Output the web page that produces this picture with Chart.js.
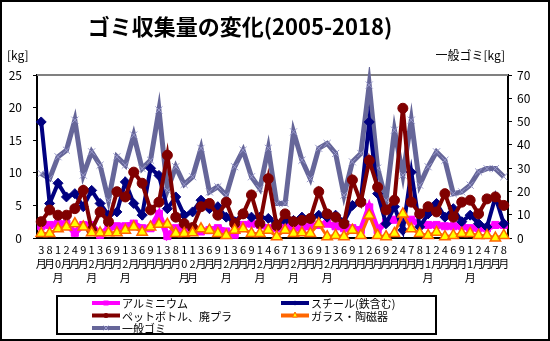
<!DOCTYPE html>
<html lang="ja">
<head>
<meta charset="UTF-8">
<title>ゴミ収集量の変化(2005-2018)</title>
<script src="https://cdn.jsdelivr.net/npm/chart.js"></script>
<style>
  body { margin: 0; background: #fff; }
  #wrap { width: 550px; height: 341px; position: relative; }
</style>
</head>
<body>
<div id="wrap"><canvas id="garbageChart"></canvas></div>
<script>
// collection months (2005-2018)
const months = ['3月','8月','10月','2月','4月','9月','12月','3月','6月','9月',
  '12月','3月','6月','9月','1月','3月','8月','10月','12月','3月',
  '6月','9月','12月','3月','6月','9月','12月','4月','6月','7月',
  '12月','3月','6月','9月','12月','3月','6月','9月','1月','2月',
  '6月','9月','2月','4月','7月','8月','11月','2月','4月','6月',
  '9月','11月','2月','4月','7月','8月'];

// left axis [kg]
const aluminium = [1.8,2.0,2.2,2.2,0.8,2.0,2.0,0.5,1.5,1.8, 1.8,2.2,1.5,1.5,3.7,0.3,1.5,1.2,1.0,1.0,
  1.2,1.5,1.0,0.5,2.0,2.2,2.0,1.5,1.5,1.8, 1.5,1.5,1.8,2.0,2.2,1.8,1.5,1.5,1.2,4.7,
  1.2,2.5,2.8,2.8,2.8,2.0,2.0,2.0,1.8,1.8, 1.8,1.5,1.5,1.5,2.0,2.0];
const steel = [17.8,5.3,8.4,6.3,6.8,4.8,7.3,5.3,3.5,4.0, 8.6,5.3,3.5,10.7,9.6,4.5,6.3,3.5,4.0,5.8,
  4.5,4.8,3.2,2.5,3.7,3.2,3.2,3.0,2.2,2.7, 2.7,3.2,3.0,3.5,3.2,3.5,2.5,5.0,5.8,17.8,
  6.8,2.2,4.8,1.2,10.1,1.7,3.7,5.3,3.2,4.5, 2.5,3.5,2.2,1.7,6.3,2.2];
const petPlastic = [2.5,4.3,3.5,3.5,4.5,7.3,1.2,4.0,2.5,7.1, 6.3,10.1,8.4,4.3,5.5,12.7,3.2,2.2,1.6,4.8,
  5.3,3.5,5.5,2.2,3.7,6.6,2.2,9.1,1.9,3.7, 2.5,2.7,3.0,7.1,3.7,3.2,2.2,8.9,5.5,11.9,
  7.8,4.3,5.8,19.9,5.5,3.7,4.8,4.0,6.8,3.2, 5.5,5.8,3.7,6.0,6.3,5.0];
const glass = [0.7,0.7,1.4,1.7,2.2,1.7,0.8,0.8,0.8,0.8, 1.2,1.7,0.9,1.7,2.1,2.1,0.7,0.7,0.8,1.4,
  1.2,0.7,0.4,1.2,1.4,0.7,0.7,1.2,0.2,1.2, 0.7,0.8,0.7,2.2,0.2,0.4,0.2,1.2,0.4,3.5,
  0.4,0.2,0.7,3.7,1.4,0.7,0.4,0.9,0.2,0.4, 0.7,0.7,0.4,0.4,0.0,0.4];
// right axis 一般ゴミ[kg]
const general = [27.7,25.5,34.9,37.7,50.6,27.0,37.0,31.3,16.2,34.9, 31.3,44.2,29.8,33.4,55.0,20.5,30.6,23.0,26.3,38.5,
  19.8,22.0,18.4,30.6,37.7,26.3,21.2,38.5,14.8,14.8, 45.6,33.4,25.5,38.5,40.6,36.3,18.4,32.7,36.3,65.7,
  30.0,16.2,46.3,27.0,50.6,22.7,30.6,37.0,33.4,19.0, 19.8,22.7,28.4,29.8,29.8,26.3];

const leftTicks = [0, 25, 5];
const rightTicks = [0, 70, 10];

const FONT = '"Noto Sans CJK JP", "Noto Sans", sans-serif';

const datasets = [
  { label: 'ガラス・陶磁器', data: glass, yAxisID: 'y', order: 0,
    borderColor: '#FF6600', borderWidth: 3,
    pointStyle: 'triangle', pointRadius: 6, pointBackgroundColor: '#FFFF00',
    pointBorderColor: '#FF6600', pointBorderWidth: 1.5 },
  { label: 'ペットボトル、廃プラ', data: petPlastic, yAxisID: 'y', order: 1,
    borderColor: '#800000', borderWidth: 4,
    pointStyle: 'circle', pointRadius: 5, pointBackgroundColor: '#800000',
    pointBorderColor: '#800000', pointBorderWidth: 1 },
  { label: 'スチール(鉄含む)', data: steel, yAxisID: 'y', order: 2,
    borderColor: '#000080', borderWidth: 4,
    pointStyle: 'rectRot', pointRadius: 5, pointBackgroundColor: '#000080',
    pointBorderColor: '#000080', pointBorderWidth: 1 },
  { label: 'アルミニウム', data: aluminium, yAxisID: 'y', order: 3,
    borderColor: '#FF00FF', borderWidth: 6,
    pointStyle: 'rect', pointRadius: 5, pointBackgroundColor: '#FF00FF',
    pointBorderColor: '#FF00FF', pointBorderWidth: 1 },
  { label: '一般ゴミ', data: general, yAxisID: 'y1', order: 4,
    borderColor: '#666699', borderWidth: 5,
    pointStyle: 'crossRot', pointRadius: 5, pointBackgroundColor: '#9999CC',
    pointBorderColor: '#9999CC', pointBorderWidth: 1 }
];
datasets.forEach(d => { d.tension = 0; d.clip = 8; d.fill = false; });

// legend layout as in the picture (2 columns in a framed box)
const legendItems = [
  { name: 'アルミニウム', col: 0, row: 0 },
  { name: 'スチール(鉄含む)', col: 1, row: 0 },
  { name: 'ペットボトル、廃プラ', col: 0, row: 1 },
  { name: 'ガラス・陶磁器', col: 1, row: 1 },
  { name: '一般ゴミ', col: 0, row: 2 }
];

function marker(ctx, style, x, y, r, fill, stroke) {
  ctx.fillStyle = fill; ctx.strokeStyle = stroke; ctx.lineWidth = 1;
  ctx.beginPath();
  if (style === 'rect') { ctx.rect(x - r, y - r, 2 * r, 2 * r); ctx.fill(); }
  else if (style === 'rectRot') { ctx.moveTo(x, y - r); ctx.lineTo(x + r, y); ctx.lineTo(x, y + r); ctx.lineTo(x - r, y); ctx.closePath(); ctx.fill(); }
  else if (style === 'circle') { ctx.arc(x, y, r, 0, Math.PI * 2); ctx.fill(); }
  else if (style === 'triangle') { ctx.moveTo(x, y - r - 1); ctx.lineTo(x + r, y + r - 1); ctx.lineTo(x - r, y + r - 1); ctx.closePath(); ctx.fill(); ctx.stroke(); }
  else if (style === 'crossRot') { ctx.moveTo(x - r, y - r); ctx.lineTo(x + r, y + r); ctx.moveTo(x + r, y - r); ctx.lineTo(x - r, y + r); ctx.stroke(); }
}

const decor = {
  id: 'decor',
  beforeDraw(chart) {
    const ctx = chart.ctx;
    ctx.save();
    ctx.fillStyle = '#fff';
    ctx.fillRect(0, 0, chart.width, chart.height);
    ctx.restore();
  },
  beforeDatasetsDraw(chart) {
    const ctx = chart.ctx, a = chart.chartArea;
    ctx.save();
    ctx.strokeStyle = '#808080';
    ctx.lineWidth = 2;
    ctx.beginPath();
    ctx.moveTo(a.left, a.top); ctx.lineTo(a.right, a.top);
    ctx.stroke();
    ctx.restore();
  },
  afterDraw(chart) {
    const ctx = chart.ctx;
    ctx.save();
    // title
    ctx.fillStyle = '#000';
    ctx.font = 'bold 22px ' + FONT;
    ctx.textAlign = 'center';
    ctx.textBaseline = 'middle';
    ctx.fillText('ゴミ収集量の変化(2005-2018)', 240, 27);
    // axis titles
    ctx.font = '12px ' + FONT;
    ctx.textAlign = 'left';
    ctx.fillText('[kg]', 7, 55);
    ctx.textAlign = 'right';
    ctx.fillText('一般ゴミ[kg]', 505, 55);
    // legend
    ctx.lineWidth = 2;
    ctx.strokeStyle = '#000';
    ctx.strokeRect(57, 296, 379, 38);
    ctx.font = '11px ' + FONT;
    ctx.textAlign = 'left';
    legendItems.forEach(it => {
      const ds = datasets.find(d => d.label === it.name);
      const x = it.col === 0 ? 92 : 281;
      const y = 303 + it.row * 12.5;
      ctx.strokeStyle = ds.borderColor;
      ctx.lineWidth = 4;
      ctx.beginPath(); ctx.moveTo(x, y); ctx.lineTo(x + 28, y); ctx.stroke();
      marker(ctx, ds.pointStyle, x + 14, y, 2.5, ds.pointBackgroundColor, ds.pointBorderColor);
      ctx.fillStyle = '#000';
      ctx.fillText(it.name, x + 30, y + 1);
    });
    // outer frame
    ctx.strokeStyle = '#000';
    ctx.lineWidth = 2;
    ctx.strokeRect(1, 1, chart.width - 2, chart.height - 2);
    ctx.restore();
  }
};

new Chart(document.getElementById('garbageChart'), {
  type: 'line',
  data: { labels: months.map(m => Array.from(m)), datasets: datasets },
  options: {
    responsive: true,
    maintainAspectRatio: false,
    animation: false,
    layout: { padding: { top: 75, left: 0, right: 0, bottom: 0 } },
    plugins: { legend: { display: false }, tooltip: { enabled: false } },
    scales: {
      x: {
        offset: true,
        grid: { display: false, drawTicks: false },
        border: { display: true, color: '#000', width: 2 },
        ticks: { autoSkip: false, maxRotation: 0, minRotation: 0, padding: 5, color: '#000',
          font: { family: FONT, size: 11, lineHeight: '14px' } },
        afterFit: s => { s.height = 103; }
      },
      y: {
        position: 'left',
        min: leftTicks[0], max: leftTicks[1],
        grid: { drawOnChartArea: false, drawTicks: true, tickLength: 4, color: '#000' },
        border: { display: true, color: '#000', width: 2 },
        ticks: { stepSize: leftTicks[2], padding: 11, color: '#000', font: { family: FONT, size: 12 } },
        afterFit: s => { s.width = 37; }
      },
      y1: {
        position: 'right',
        min: rightTicks[0], max: rightTicks[1],
        grid: { drawOnChartArea: false, drawTicks: true, tickLength: 4, color: '#000' },
        border: { display: true, color: '#000', width: 2 },
        ticks: { stepSize: rightTicks[2], padding: 5, color: '#000', font: { family: FONT, size: 12 } },
        afterFit: s => { s.width = 42; }
      }
    }
  },
  plugins: [decor]
});
</script>
</body>
</html>
